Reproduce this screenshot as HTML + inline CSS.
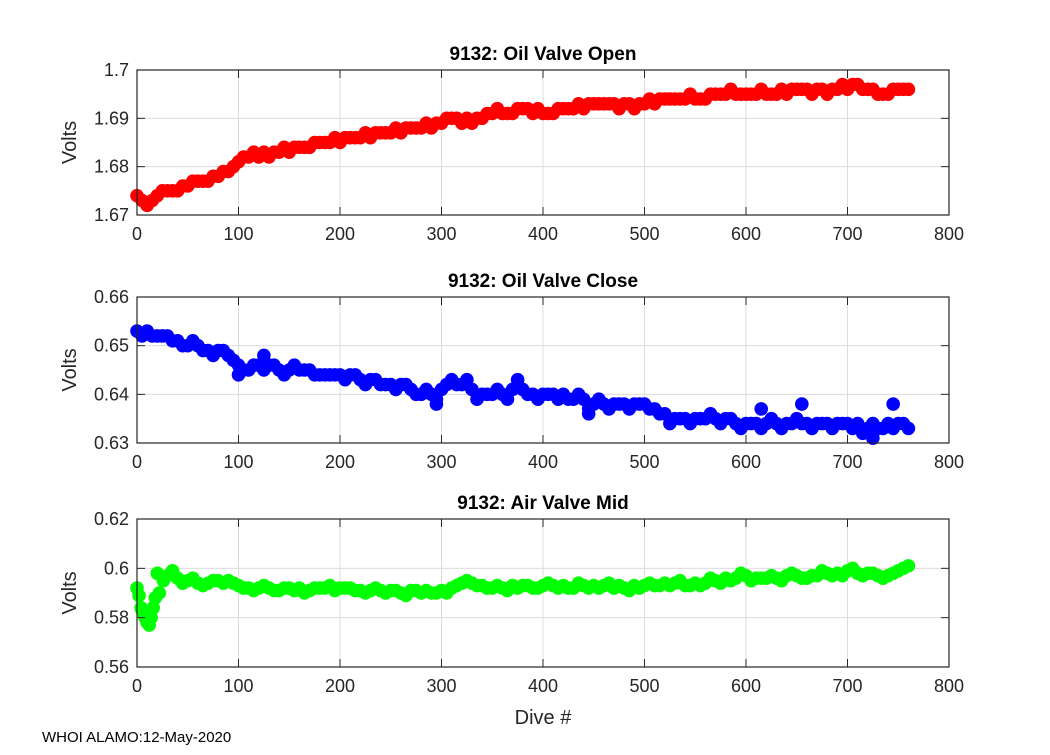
<!DOCTYPE html>
<html><head><meta charset="utf-8"><style>
body{margin:0;background:#fff;width:1050px;height:750px;overflow:hidden;font-family:"Liberation Sans",Arial,sans-serif}
</style></head><body>
<svg id="fig" width="1050" height="750" xmlns="http://www.w3.org/2000/svg" font-family="Liberation Sans, Arial, sans-serif">
<rect width="1050" height="750" fill="#fff"/>
<text x="42" y="742" font-size="15" fill="#000">WHOI ALAMO:12-May-2020</text>
</svg>
<script>
const dives=[0,10,20,30,40,50,60,70,80,90,100,110,120,130,140,150,160,170,180,190,200,210,220,230,240,250,260,270,280,290,300,310,320,330,340,350,360,370,380,390,400,410,420,430,440,450,460,470,480,490,500,510,520,530,540,550,560,570,580,590,600,610,620,630,640,650,660,670,680,690,700,710,720,730,740,750,760];
const divesMid=[5,15,25,35,45,55,65,75,85,95,105,115,125,135,145,155,165,175,185,195,205,215,225,235,245,255,265,275,285,295,305,315,325,335,345,355,365,375,385,395,405,415,425,435,445,455,465,475,485,495,505,515,525,535,545,555,565,575,585,595,605,615,625,635,645,655,665,675,685,695,705,715,725,735,745,755];
const airMidDives=[45,55,65,75,85,95,105,115,125,135,145,155,165,175,185,195,205,215,225,235,245,255,265,275,285,295,305,315,325,335,345,355,365,375,385,395,405,415,425,435,445,455,465,475,485,495,505,515,525,535,545,555,565,575,585,595,605,615,625,635,645,655,665,675,685,695,705,715,725,735,745,755];
const openVals=[1.674,1.672,1.674,1.675,1.675,1.676,1.677,1.677,1.678,1.679,1.681,1.682,1.682,1.682,1.683,1.683,1.684,1.684,1.685,1.685,1.685,1.686,1.686,1.686,1.687,1.687,1.687,1.688,1.688,1.688,1.689,1.690,1.689,1.689,1.690,1.691,1.691,1.691,1.692,1.691,1.691,1.691,1.692,1.692,1.692,1.693,1.693,1.693,1.693,1.692,1.693,1.693,1.694,1.694,1.694,1.694,1.694,1.695,1.695,1.695,1.695,1.695,1.695,1.695,1.695,1.696,1.696,1.696,1.695,1.696,1.696,1.697,1.696,1.695,1.695,1.696,1.696];
const openMid=[1.673,1.673,1.675,1.675,1.676,1.677,1.677,1.678,1.679,1.680,1.682,1.683,1.683,1.683,1.684,1.684,1.684,1.685,1.685,1.686,1.686,1.686,1.687,1.687,1.687,1.688,1.688,1.688,1.689,1.689,1.690,1.690,1.690,1.690,1.691,1.692,1.691,1.692,1.692,1.692,1.691,1.692,1.692,1.693,1.693,1.693,1.693,1.692,1.693,1.693,1.694,1.694,1.694,1.694,1.695,1.694,1.695,1.695,1.696,1.695,1.695,1.696,1.695,1.696,1.696,1.696,1.695,1.696,1.696,1.697,1.697,1.696,1.696,1.695,1.696,1.696];
const closeVals=[0.653,0.653,0.652,0.652,0.651,0.650,0.650,0.649,0.649,0.648,0.646,0.645,0.646,0.646,0.645,0.645,0.645,0.645,0.644,0.644,0.644,0.644,0.643,0.643,0.642,0.642,0.642,0.641,0.640,0.640,0.641,0.643,0.642,0.641,0.640,0.640,0.640,0.641,0.641,0.640,0.640,0.640,0.640,0.639,0.639,0.638,0.638,0.638,0.638,0.638,0.638,0.637,0.636,0.635,0.635,0.635,0.635,0.635,0.635,0.634,0.634,0.634,0.634,0.634,0.634,0.635,0.634,0.634,0.634,0.634,0.634,0.634,0.633,0.633,0.634,0.634,0.633];
const closeMid=[0.652,0.652,0.652,0.651,0.650,0.651,0.649,0.648,0.649,0.647,0.645,0.646,0.645,0.646,0.644,0.646,0.645,0.644,0.644,0.644,0.643,0.644,0.642,0.643,0.642,0.641,0.642,0.640,0.641,0.639,0.642,0.642,0.643,0.639,0.640,0.641,0.639,0.642,0.640,0.639,0.640,0.639,0.639,0.640,0.637,0.639,0.637,0.638,0.637,0.638,0.637,0.636,0.634,0.635,0.634,0.635,0.636,0.634,0.635,0.633,0.634,0.633,0.635,0.633,0.634,0.634,0.633,0.634,0.633,0.634,0.633,0.632,0.634,0.633,0.633,0.634];
const closeExtraDives=[100,125,295,375,445,615,655,725,745];
const closeExtraVals=[0.644,0.648,0.638,0.643,0.636,0.637,0.638,0.631,0.638];
const airVals=[0.592,0.578,0.598,0.597,0.596,0.595,0.594,0.594,0.595,0.595,0.593,0.592,0.592,0.592,0.591,0.592,0.592,0.591,0.592,0.593,0.592,0.592,0.591,0.591,0.591,0.591,0.590,0.591,0.590,0.590,0.591,0.592,0.594,0.594,0.593,0.592,0.592,0.593,0.593,0.592,0.593,0.593,0.593,0.592,0.593,0.593,0.593,0.592,0.592,0.593,0.593,0.593,0.594,0.594,0.593,0.594,0.594,0.595,0.596,0.596,0.597,0.596,0.596,0.596,0.597,0.597,0.596,0.597,0.598,0.598,0.599,0.598,0.598,0.597,0.597,0.599,0.601];
const airMid=[0.594,0.596,0.593,0.595,0.594,0.594,0.592,0.591,0.593,0.591,0.592,0.591,0.590,0.592,0.592,0.591,0.592,0.591,0.590,0.592,0.590,0.591,0.589,0.591,0.591,0.590,0.590,0.593,0.595,0.593,0.592,0.593,0.591,0.592,0.593,0.592,0.594,0.592,0.592,0.594,0.592,0.592,0.594,0.593,0.591,0.592,0.594,0.593,0.593,0.595,0.593,0.593,0.596,0.594,0.595,0.598,0.595,0.596,0.597,0.595,0.598,0.596,0.597,0.599,0.597,0.597,0.600,0.597,0.598,0.596,0.598,0.600];
const airExtraDives=[2,4,6,8,14,16,18,22,26,35,5,12];
const airExtraVals=[0.589,0.584,0.582,0.580,0.580,0.584,0.588,0.590,0.595,0.599,0.583,0.577];
const xTicks=[0,100,200,300,400,500,600,700,800];

const NS="http://www.w3.org/2000/svg";
const svg=document.getElementById('fig');
function mk(t,a){const e=document.createElementNS(NS,t);for(const k in a)e.setAttribute(k,a[k]);svg.appendChild(e);return e;}
const L=137,R=949;
function panel(p){
  const xs=v=>L+(v-0)/800*(R-L);
  const ys=v=>p.bot-(v-p.ymin)/(p.ymax-p.ymin)*(p.bot-p.top);
  xTicks.forEach(t=>{const g=mk('line',{x1:xs(t),x2:xs(t),y1:p.top,y2:p.bot,stroke:'#dcdcdc','stroke-width':1});
    
    });
  p.yTicks.forEach(t=>{const g=mk('line',{x1:L,x2:R,y1:ys(t),y2:ys(t),stroke:'#dcdcdc','stroke-width':1});
    
    });
  const all=[];
  p.sets.forEach(([ds,vs])=>ds.forEach((d,i)=>all.push([d,vs[i]])));
  all.forEach(([d,v])=>{const c=mk('circle',{cx:xs(d),cy:ys(v),r:6.8,fill:p.color});
    
    });
  const f=mk('rect',{x:L,y:p.top,width:R-L,height:p.bot-p.top,fill:'none',stroke:'#262626','stroke-width':1.2});
  
  
  xTicks.forEach(t=>{
    mk('line',{x1:xs(t),x2:xs(t),y1:p.bot,y2:p.bot-8,stroke:'#262626'});
    mk('line',{x1:xs(t),x2:xs(t),y1:p.top,y2:p.top+8,stroke:'#262626'});
    const tx=mk('text',{x:xs(t),y:p.bot+25,'font-size':18,'text-anchor':'middle',fill:'#262626'});tx.textContent=t;
    
    
  });
  p.yTicks.forEach((t,i)=>{
    mk('line',{x1:L,x2:L+8,y1:ys(t),y2:ys(t),stroke:'#262626'});
    mk('line',{x1:R,x2:R-8,y1:ys(t),y2:ys(t),stroke:'#262626'});
    const tx=mk('text',{x:L-8,y:ys(t)+6,'font-size':18,'text-anchor':'end',fill:'#262626'});tx.textContent=p.yLabels[i];
    
    
  });
  const ti=mk('text',{x:(L+R)/2,y:p.top-10,'font-size':19,'font-weight':'bold','text-anchor':'middle',fill:'#000'});ti.textContent=p.title;
  
  
  const yl=mk('text',{x:0,y:0,'font-size':20,'text-anchor':'middle',fill:'#262626',transform:`translate(76,${(p.top+p.bot)/2}) rotate(-90)`});yl.textContent='Volts';
  
  
}
panel({name:'oil-valve-open',title:'9132: Oil Valve Open',top:70,bot:215,ymin:1.67,ymax:1.70,yTicks:[1.67,1.68,1.69,1.70],yLabels:['1.67','1.68','1.69','1.7'],sets:[[dives,openVals],[divesMid,openMid]],color:'#ff0000'});
panel({name:'oil-valve-close',title:'9132: Oil Valve Close',top:297,bot:443,ymin:0.63,ymax:0.66,yTicks:[0.63,0.64,0.65,0.66],yLabels:['0.63','0.64','0.65','0.66'],sets:[[dives,closeVals],[divesMid,closeMid],[closeExtraDives,closeExtraVals]],color:'#0000ff'});
panel({name:'air-valve-mid',title:'9132: Air Valve Mid',top:519,bot:667,ymin:0.56,ymax:0.62,yTicks:[0.56,0.58,0.60,0.62],yLabels:['0.56','0.58','0.6','0.62'],sets:[[dives,airVals],[airMidDives,airMid],[airExtraDives,airExtraVals]],color:'#00ff00'});
const xl=mk('text',{x:543,y:724,'font-size':20,'text-anchor':'middle',fill:'#262626'});xl.textContent='Dive #';


</script>
</body></html>
